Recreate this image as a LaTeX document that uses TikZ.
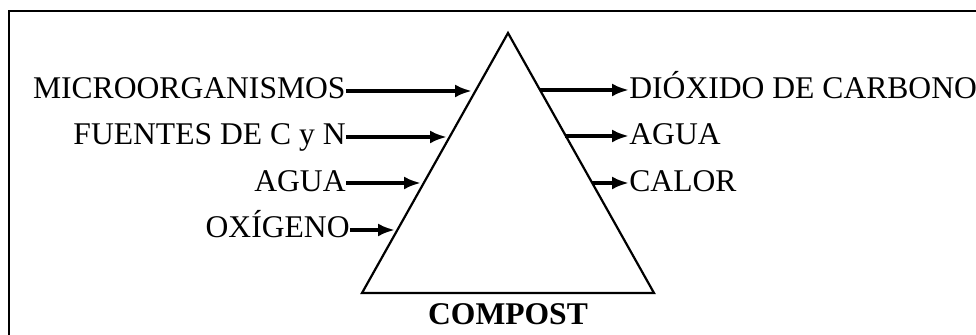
\documentclass[tikz,border=0pt]{standalone}
\usepackage{fontspec}
\setmainfont{Liberation Serif}
\usetikzlibrary{arrows.meta}
\begin{document}
\begin{tikzpicture}[x=0.5pt,y=-0.5pt,
  lbl/.style={inner sep=0pt,font=\fontsize{15.8}{18}\selectfont},
  arr/.style={line width=1.7pt,-{Latex[length=8.5pt,width=6.5pt]}},
  edge/.style={line width=1.1pt,line join=miter}]
\useasboundingbox (0,0) rectangle (976,335);
\clip (0,0) rectangle (976,335);
\draw[line width=0.9pt] (9,11) rectangle (1000,360);
% triangle
\coordinate (T) at (508,33);
\coordinate (BL) at (362,293);
\coordinate (BR) at (654,293);
\draw[edge] (T) -- (BL) -- (BR) -- cycle;
% inputs
\node[lbl,anchor=base east] (m) at (346,98.3) {MICROORGANISMOS};
\node[lbl,anchor=base east] (f) at (346,144.6) {FUENTES DE C y N};
\node[lbl,anchor=base east] (a) at (346,191.6) {AGUA};
\node[lbl,anchor=base east] (o) at (350,237.3) {OXÍGENO};
\coordinate (m2) at (472,91);
\coordinate (f2) at (447,137);
\coordinate (a2) at (421,183);
\coordinate (o2) at (395,230);
\draw[arr] (m.east |- m2) -- (m2);
\draw[arr] (f.east |- f2) -- (f2);
\draw[arr] (a.east |- a2) -- (a2);
\draw[arr] (o.east |- o2) -- (o2);
% outputs
\node[lbl,anchor=base west] (d) at (629,98.3) {DIÓXIDO DE CARBONO};
\node[lbl,anchor=base west] (w) at (629,144.6) {AGUA};
\node[lbl,anchor=base west] (c) at (629,191.6) {CALOR};
\coordinate (d1) at (540,90);
\coordinate (w1) at (565,136);
\coordinate (c1) at (592,183);
\draw[arr] (d1) -- (d.west |- d1);
\draw[arr] (w1) -- (w.west |- w1);
\draw[arr] (c1) -- (c.west |- c1);
\node[lbl,anchor=base,font=\fontsize{15.8}{18}\selectfont\bfseries] (k) at (508,325) {COMPOST};
\end{tikzpicture}
\end{document}
